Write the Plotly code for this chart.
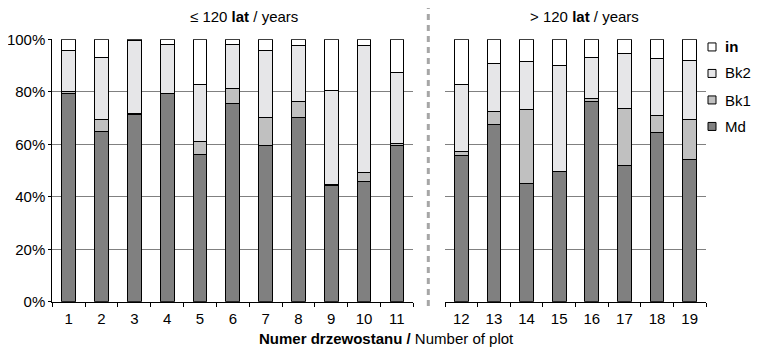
import plotly.graph_objects as go

plots_left = ["1", "2", "3", "4", "5", "6", "7", "8", "9", "10", "11"]
plots_right = ["12", "13", "14", "15", "16", "17", "18", "19"]

md_left = [79.5, 65.0, 71.2, 79.2, 56.2, 75.7, 59.5, 70.2, 44.2, 46.0, 59.5]
bk1_left = [0.5, 4.3, 0.5, 0.0, 4.7, 5.6, 10.7, 6.2, 0.5, 3.2, 0.9]
bk2_left = [15.8, 23.6, 27.9, 18.9, 22.0, 16.8, 25.6, 21.1, 35.7, 48.3, 27.0]
in_left = [4.2, 7.1, 0.4, 1.9, 17.1, 1.9, 4.2, 2.5, 19.6, 2.5, 12.6]

md_right = [55.7, 67.7, 44.9, 49.5, 76.3, 52.0, 64.6, 54.4]
bk1_right = [1.5, 4.9, 28.2, 0.3, 1.2, 21.8, 6.4, 15.0]
bk2_right = [25.7, 18.1, 18.5, 40.2, 15.6, 20.7, 21.8, 22.7]
in_right = [17.1, 9.3, 8.4, 10.0, 6.9, 5.5, 7.2, 7.9]

series_names = ["Md", "Bk1", "Bk2", "in"]
legend_labels = ["Md", "Bk1", "Bk2", "<b>in</b>"]
series_colors = ["#808080", "#c0c0c0", "#e6e6e8", "#ffffff"]

y_ticks = [0, 20, 40, 60, 80, 100]
y_tick_labels = ["0%", "20%", "40%", "60%", "80%", "100%"]

# page has an 8px body margin: figure occupies window x 8..751, y 8..350
OFF = 8
W, H = 743, 342
FONT = "Liberation Sans, Arial, sans-serif"


def px(v):
    return (v - OFF) / W


def py(v):
    return 1 - (v - OFF) / H


left_vals = [md_left, bk1_left, bk2_left, in_left]
right_vals = [md_right, bk1_right, bk2_right, in_right]

fig = go.Figure()
for name, col, lv, rv in zip(series_names, series_colors, left_vals, right_vals):
    fig.add_trace(go.Bar(x=plots_left, y=lv, name=name, marker=dict(color=col, line=dict(color="#000000", width=1)),
                         xaxis="x", yaxis="y", showlegend=False))
    fig.add_trace(go.Bar(x=plots_right, y=rv, name=name, marker=dict(color=col, line=dict(color="#000000", width=1)),
                         xaxis="x2", yaxis="y2", showlegend=False))

# legend keys (top to bottom: in, Bk2, Bk1, Md); labels are drawn as annotations beside them
for i in [3, 2, 1, 0]:
    fig.add_trace(go.Scatter(x=[None], y=[None], mode="markers", name=" ",
                             legendgroup=series_names[i],
                             marker=dict(symbol="square", size=8, color=series_colors[i],
                                         line=dict(color="#000000", width=1)),
                             xaxis="x", yaxis="y", showlegend=True))

legend_label_y = [46.7, 72.7, 100.0, 126.7]  # window px rows: in, Bk2, Bk1, Md

x1d = [px(52.3), px(413.3)]
x2d = [px(445.0), px(706.0)]
yd = [py(301.8), py(39.3)]

common_x = dict(type="category", showline=True, linecolor="#000000", linewidth=1, ticks="outside",
                ticklen=4, tickcolor="#000000", tickson="boundaries", showgrid=False,
                ticklabelstandoff=3, tickfont=dict(size=15, color="#000000"), fixedrange=True)

annotations = [
    dict(text="≤ 120 <b>lat</b> / years", x=px(243.5), y=py(16), xref="paper", yref="paper",
         xanchor="center", yanchor="middle", showarrow=False, font=dict(size=15)),
    dict(text="> 120 <b>lat</b> / years", x=px(584), y=py(16), xref="paper", yref="paper",
         xanchor="center", yanchor="middle", showarrow=False, font=dict(size=15)),
    dict(text="<b>Numer drzewostanu /</b> Number of plot", x=px(386), y=py(338),
         xref="paper", yref="paper", xanchor="center", yanchor="middle", showarrow=False,
         font=dict(size=15)),
]
for lab, yy in zip([legend_labels[3], legend_labels[2], legend_labels[1], legend_labels[0]], legend_label_y):
    annotations.append(dict(text=lab, x=px(723), y=py(yy), xref="paper", yref="paper",
                            xanchor="left", yanchor="middle", showarrow=False, font=dict(size=15)))

fig.update_layout(
    width=W, height=H,
    margin=dict(l=0, r=0, t=0, b=0, autoexpand=False),
    paper_bgcolor="#ffffff", plot_bgcolor="#ffffff",
    font=dict(family=FONT, size=15, color="#000000"),
    barmode="stack", bargap=0.58,
    xaxis=dict(domain=x1d, anchor="y", **common_x),
    xaxis2=dict(domain=x2d, anchor="y2", **common_x),
    yaxis=dict(domain=yd, anchor="x", range=[0, 100], tickmode="array", tickvals=y_ticks,
               ticktext=y_tick_labels,
               showline=True, linecolor="#000000", linewidth=1, ticks="outside", ticklen=3,
               tickcolor="#000000", showgrid=True, gridcolor="#808080", gridwidth=1,
               zeroline=False, tickfont=dict(size=15, color="#000000")),
    yaxis2=dict(domain=yd, anchor="x2", range=[0, 100], tickmode="array", tickvals=y_ticks,
                showticklabels=False, showline=False, ticks="", showgrid=True, gridcolor="#808080",
                gridwidth=1, zeroline=False),
    showlegend=True,
    legend=dict(x=px(692), xanchor="left", y=py(30.7), yanchor="top",
                traceorder="grouped", tracegroupgap=4, itemwidth=30,
                font=dict(size=15, color="#000000"), bgcolor="rgba(0,0,0,0)"),
    shapes=[dict(type="line", xref="paper", yref="paper", x0=px(428.3), x1=px(428.3),
                 y0=py(306), y1=py(8), line=dict(color="#a6a6a6", width=3, dash="6px,5px"))],
    annotations=annotations,
)

fig.write_html("out.html")
